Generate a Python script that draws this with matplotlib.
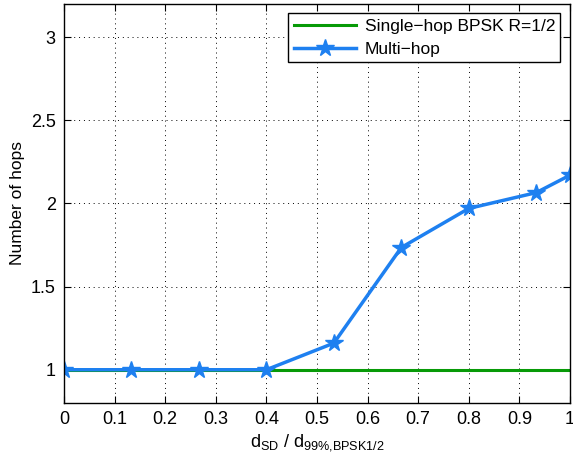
import numpy as np
import matplotlib.pyplot as plt

x_multi = [0, 2/15, 4/15, 6/15, 8/15, 10/15, 12/15, 14/15, 1.0]
hops_multi = [1.0, 1.0, 1.0, 1.0, 1.16, 1.735, 1.97, 2.065, 2.17]
x_single = [0, 1.0]
hops_single = [1.0, 1.0]

plt.rcParams['font.family'] = ['Liberation Sans', 'DejaVu Sans']
plt.rcParams['mathtext.fontset'] = 'custom'
plt.rcParams['mathtext.rm'] = 'Liberation Sans'

fig = plt.figure(figsize=(5.73, 4.63), dpi=100)
ax = fig.add_axes([0.1117, 0.1296, 0.883, 0.862])

ax.plot(x_single, hops_single, color='#079a07', lw=2.2, label='Single\u2212hop BPSK R=1/2')
ax.plot(x_multi, hops_multi, color='#1e80f0', lw=2.5, marker='*', markersize=13,
        label='Multi\u2212hop')

ax.set_xlim(0, 1)
ax.set_ylim(0.8, 3.2)
ax.set_xticks(np.arange(0, 1.01, 0.1))
ax.set_xticklabels(['0', '0.1', '0.2', '0.3', '0.4', '0.5', '0.6', '0.7', '0.8', '0.9', '1'])
ax.set_yticks([1, 1.5, 2, 2.5, 3])
ax.set_yticklabels(['1', '1.5', '2', '2.5', '3'])
ax.grid(True, color='black', linestyle=(0, (1, 4)), lw=0.7)
ax.tick_params(direction='in', top=True, right=True, labelsize=13, length=5, pad=6)
for s in ax.spines.values():
    s.set_linewidth(1.0)

ax.set_xlabel(r'd$_{\mathrm{SD}}$ / d$_{\mathrm{99\%{,}BPSK1/2}}$', fontsize=13, labelpad=3)
ax.set_ylabel('Number of hops', fontsize=12.5)

leg = ax.legend(loc='upper right', fontsize=12.5, fancybox=False, framealpha=1,
                edgecolor='black', borderpad=0.3, handlelength=3.6,
                labelspacing=0.45, handletextpad=0.5, borderaxespad=0.55)
leg.get_frame().set_linewidth(1.0)

fig.savefig('out.png', dpi=100)
